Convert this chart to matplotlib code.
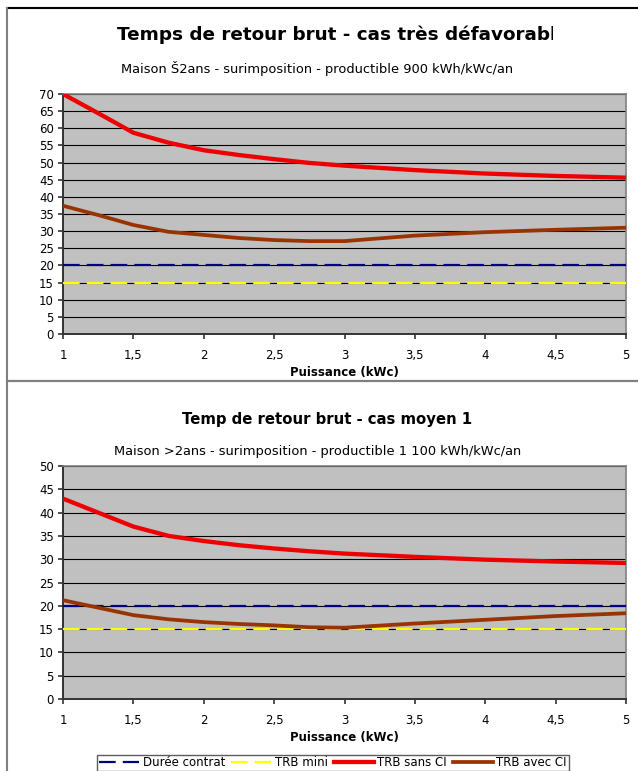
import matplotlib
matplotlib.use("Agg")
import matplotlib.pyplot as plt
from matplotlib.lines import Line2D
from matplotlib.transforms import Bbox, TransformedBbox
from matplotlib.ticker import FuncFormatter, MultipleLocator

plt.rcParams['font.family'] = ['DejaVu Sans']

# ---- data ----
x_vals = [1, 1.25, 1.5, 1.75, 2, 2.25, 2.5, 2.75, 3, 3.5, 4, 4.5, 5]

top_sans_ci = [70.0, 64.4, 58.7, 55.8, 53.6, 52.2, 51.0, 49.9, 49.1, 47.8, 46.8, 46.1, 45.6]
top_avec_ci = [37.4, 34.7, 31.8, 29.8, 28.9, 28.0, 27.4, 27.1, 27.1, 28.7, 29.7, 30.4, 31.0]
top_duree = 20
top_mini = 15

bot_sans_ci = [43.0, 40.0, 37.0, 35.0, 33.9, 33.0, 32.3, 31.7, 31.2, 30.5, 29.9, 29.5, 29.2]
bot_avec_ci = [21.2, 19.6, 18.0, 17.1, 16.5, 16.1, 15.8, 15.4, 15.3, 16.2, 17.0, 17.8, 18.4]
bot_duree = 20
bot_mini = 15

titles = ["Temps de retour brut - cas très défavorable",
          "Temp de retour brut - cas moyen 1"]
subtitles = ["Maison Š2ans - surimposition - productible 900 kWh/kWc/an",
             "Maison >2ans - surimposition - productible 1 100 kWh/kWc/an"]
xlabel = "Puissance (kWc)"
legend_labels = ["Durée contrat", "TRB mini", "TRB sans CI", "TRB avec CI"]
ymax = [70, 50]

# ---- style ----
W, H = 638, 771
fig = plt.figure(figsize=(W / 100, H / 100), dpi=100)
fig.patch.set_facecolor('white')

C_BLUE = '#000080'
C_YEL = '#FFFF00'
C_RED = '#EE0000'
C_BROWN = '#993300'
BG = '#C0C0C0'


def fx(px):
    return px / W


def fy(py):
    return 1 - py / H


def comma(v, pos):
    return ('%g' % v).replace('.', ',')


axes_px = [(63, 94, 626, 334), (63, 466, 626, 699)]
data = [(top_sans_ci, top_avec_ci, top_duree, top_mini),
        (bot_sans_ci, bot_avec_ci, bot_duree, bot_mini)]

for i, (l, t, r, b) in enumerate(axes_px):
    ax = fig.add_axes([fx(l), fy(b), fx(r) - fx(l), (b - t) / H])
    ax.set_facecolor(BG)
    sans, avec, duree, mini = data[i]
    ax.set_xlim(1, 5)
    ax.set_ylim(0, ymax[i])
    ax.yaxis.set_major_locator(MultipleLocator(5))
    ax.xaxis.set_major_locator(MultipleLocator(0.5))
    ax.xaxis.set_major_formatter(FuncFormatter(comma))
    ax.grid(axis='y', color='black', lw=0.8, zorder=1)
    ax.set_axisbelow(True)
    ax.plot([1, 5], [duree, duree], color=C_BLUE, lw=1.6, dashes=(7.5, 3.2), zorder=3)
    ax.plot([1, 5], [mini, mini], color=C_YEL, lw=1.6, dashes=(7.5, 3.2), zorder=3)
    ax.plot(x_vals, sans, color=C_RED, lw=3.1, solid_capstyle='butt', zorder=4)
    ax.plot(x_vals, avec, color=C_BROWN, lw=2.7, solid_capstyle='butt', zorder=4)
    for s in ['top', 'right']:
        ax.spines[s].set_color('#808080')
        ax.spines[s].set_linewidth(1.2)
    for s in ['left', 'bottom']:
        ax.spines[s].set_color('#333333')
        ax.spines[s].set_linewidth(1.4)
    ax.tick_params(axis='both', labelsize=8.5, colors='#333333', labelcolor='black',
                   length=3.5, width=1.2, direction='out')
    ax.tick_params(axis='x', pad=7)
    ax.tick_params(axis='y', pad=3)
    ax.set_xlabel(xlabel, fontsize=8.5, fontweight='bold', labelpad=3)

# titles
t0 = fig.text(fx(117), fy(35), titles[0], ha='left', va='center',
              fontsize=13.2, fontweight='bold')
clip = TransformedBbox(Bbox([[0, 0], [fx(553), 1]]), fig.transFigure)
t0.set_clip_box(clip)
t0.set_clip_on(True)
fig.text(fx(327), fy(420), titles[1], ha='center', va='center',
         fontsize=10.7, fontweight='bold')
fig.text(fx(317), fy(68), subtitles[0], ha='center', va='center', fontsize=9.4)
fig.text(fx(318), fy(452), subtitles[1], ha='center', va='center', fontsize=9.4)

# chart borders
fig.add_artist(Line2D([fx(7), 1], [fy(8), fy(8)], color='black', lw=1.5))
fig.add_artist(Line2D([fx(7), fx(7)], [fy(8), 0], color='#808080', lw=1.5))
fig.add_artist(Line2D([fx(7), 1], [fy(381), fy(381)], color='#808080', lw=1.6))

# legend
handles = [Line2D([], [], color=C_BLUE, lw=1.6, dashes=(7.5, 3.2)),
           Line2D([], [], color=C_YEL, lw=1.6, dashes=(7.5, 3.2)),
           Line2D([], [], color=C_RED, lw=3.1),
           Line2D([], [], color=C_BROWN, lw=2.7)]
leg = fig.legend(handles, legend_labels, loc='center', ncol=4,
                 bbox_to_anchor=(fx(333), fy(763)), fontsize=8.5,
                 frameon=True, fancybox=False, shadow=False, borderpad=0.15,
                 handlelength=3.4, handletextpad=0.3, columnspacing=0.5,
                 borderaxespad=0)
leg.get_frame().set_edgecolor('#333333')
leg.get_frame().set_linewidth(1.0)

fig.savefig('out.png', dpi=100, facecolor='white')
